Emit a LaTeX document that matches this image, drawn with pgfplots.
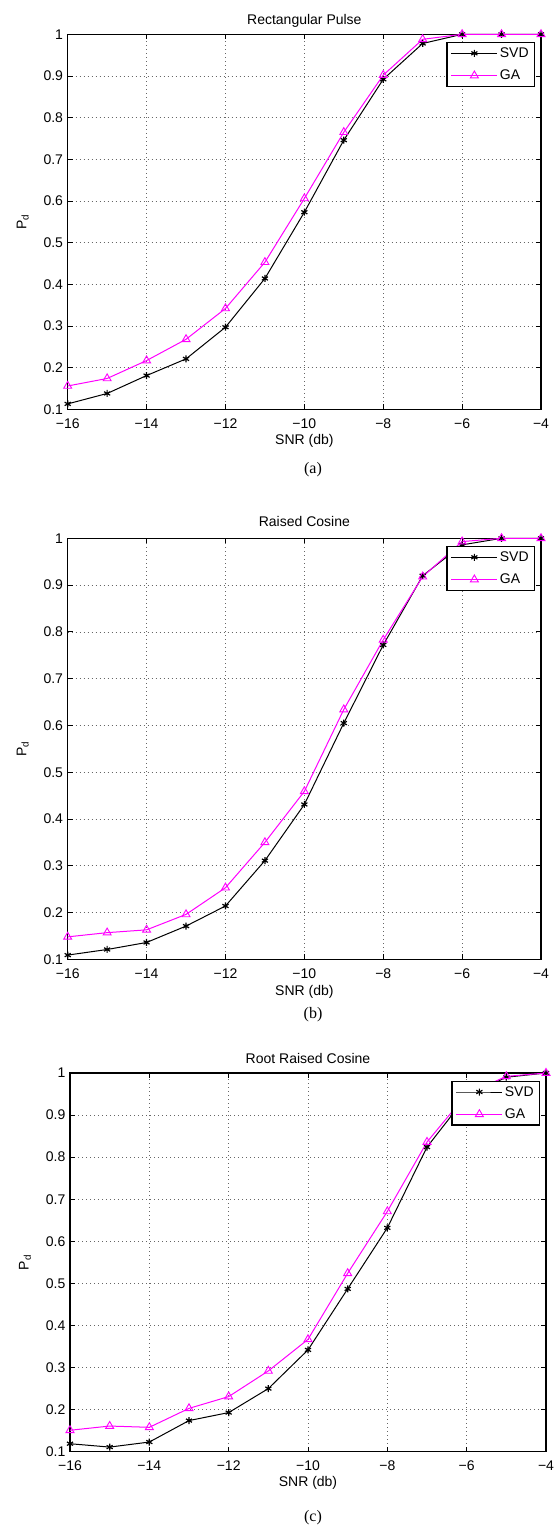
\documentclass[border=0pt]{standalone}
\usepackage{fontspec}
\setmainfont{Liberation Sans}
\newfontfamily\capfont{Liberation Serif}
\usepackage{pgfplots}
\pgfplotsset{compat=1.18}
\definecolor{mag}{RGB}{255,0,255}

\tikzset{lab/.style={font=\fontsize{14}{16}\selectfont}}
\pgfplotsset{
  pdaxis/.style={
    scale only axis, clip=false,
    xmin=-16, xmax=-4, ymin=0.1, ymax=1,
    xtick={-16,-14,-12,-10,-8,-6,-4},
    xticklabels={−16,−14,−12,−10,−8,−6,−4},
    ytick={0.1,0.2,0.3,0.4,0.5,0.6,0.7,0.8,0.9,1},
    yticklabels={0.1,0.2,0.3,0.4,0.5,0.6,0.7,0.8,0.9,1},
    grid=major, grid style={gray!80!black, line width=0.6pt, dash pattern=on 0.8pt off 3.2pt},
    tick align=inside, major tick length=5pt,
    tick style={black, line width=0.8pt},
    axis line style={black, line width=1.5pt},
    ticklabel style={font=\fontsize{14}{16}\selectfont},
    xticklabel style={anchor=center, yshift=-14pt},
    yticklabel style={anchor=east, inner sep=0pt, xshift=-4.5pt},
    legend style={at={(1,1)}, anchor=north east, xshift=-5.7pt, yshift=-7.7pt,
      draw=black, line width=1.3pt, fill=white, inner xsep=4pt, inner ysep=3pt,
      nodes={inner sep=2pt}, row sep=7pt,
      font=\fontsize{14}{16}\selectfont},
    legend cell align=left,
    legend image code/.code={\draw[mark repeat=2,mark phase=2] plot coordinates {(0pt,0pt) (23pt,0pt) (46pt,0pt)};},
  },
  svd/.style={black, line width=1pt, mark=asterisk, mark size=3.5pt, mark options={line width=1.2pt}},
  ga/.style={mag, line width=1pt, mark=triangle, mark size=4.6pt, mark options={line width=0.9pt, fill=white}},
}

\begin{document}
\begin{tikzpicture}
\useasboundingbox (0pt,0pt) rectangle (555pt,-1526pt);

% (a) rectangular pulse
\begin{axis}[pdaxis, at={(67.7pt,-409.3pt)}, anchor=south west,
  width=473.3pt, height=375pt]
\addplot[svd] coordinates {(-16,0.113) (-15,0.138) (-14,0.181) (-13,0.221) (-12,0.297) (-11,0.414)
  (-10,0.573) (-9,0.746) (-8,0.892) (-7,0.978) (-6,1.0) (-5,1.0) (-4,1.0)};
\addplot[ga] coordinates {(-16,0.156) (-15,0.174) (-14,0.217) (-13,0.268) (-12,0.342) (-11,0.453)
  (-10,0.606) (-9,0.765) (-8,0.902) (-7,0.988) (-6,1.0) (-5,1.0) (-4,1.0)};
\legend{SVD,GA}
\node[lab, anchor=base] at ([yshift=10pt]rel axis cs:0.5,1) {Rectangular Pulse};
\node[lab, rotate=90] at ([xshift=-45pt]rel axis cs:0,0.5) {P\textsubscript{d}};
\node[lab] at ([yshift=-32pt]rel axis cs:0.5,0) {SNR (db)};
\end{axis}
\node[font=\capfont\fontsize{16}{18}\selectfont] at (313pt,-470pt) {(a)};

% (b) raised cosine
\begin{axis}[pdaxis, at={(67.7pt,-959.3pt)}, anchor=south west,
  width=473.3pt, height=421pt]
\addplot[svd] coordinates {(-16,0.109) (-15,0.121) (-14,0.136) (-13,0.171) (-12,0.214) (-11,0.311)
  (-10,0.431) (-9,0.605) (-8,0.772) (-7,0.920) (-6,0.986) (-5,1.0) (-4,1.0)};
\addplot[ga] coordinates {(-16,0.148) (-15,0.157) (-14,0.163) (-13,0.196) (-12,0.253) (-11,0.350)
  (-10,0.459) (-9,0.634) (-8,0.783) (-7,0.918) (-6,0.993) (-5,1.0) (-4,1.0)};
\legend{SVD,GA}
\node[lab, anchor=base] at ([yshift=12pt]rel axis cs:0.5,1) {Raised Cosine};
\node[lab, rotate=90] at ([xshift=-45pt]rel axis cs:0,0.5) {P\textsubscript{d}};
\node[lab] at ([yshift=-33pt]rel axis cs:0.5,0) {SNR (db)};
\end{axis}
\node[font=\capfont\fontsize{16}{18}\selectfont] at (313pt,-1015pt) {(b)};

% (c) root raised cosine
\begin{axis}[pdaxis, at={(70pt,-1451.7pt)}, anchor=south west,
  width=476pt, height=378.7pt]
\addplot[svd] coordinates {(-16,0.119) (-15,0.111) (-14,0.123) (-13,0.174) (-12,0.193) (-11,0.250)
  (-10,0.342) (-9,0.487) (-8,0.632) (-7,0.824) (-6,0.945) (-5,0.990) (-4,1.0)};
\addplot[ga] coordinates {(-16,0.151) (-15,0.161) (-14,0.158) (-13,0.203) (-12,0.231) (-11,0.292)
  (-10,0.367) (-9,0.524) (-8,0.671) (-7,0.836) (-6,0.950) (-5,0.992) (-4,1.0)};
\legend{SVD,GA}
\node[lab, anchor=base] at ([yshift=10pt]rel axis cs:0.5,1) {Root Raised Cosine};
\node[lab, rotate=90] at ([xshift=-45pt]rel axis cs:0,0.5) {P\textsubscript{d}};
\node[lab] at ([yshift=-31pt]rel axis cs:0.5,0) {SNR (db)};
\end{axis}
\node[font=\capfont\fontsize{16}{18}\selectfont] at (313pt,-1518pt) {(c)};
\end{tikzpicture}
\end{document}
